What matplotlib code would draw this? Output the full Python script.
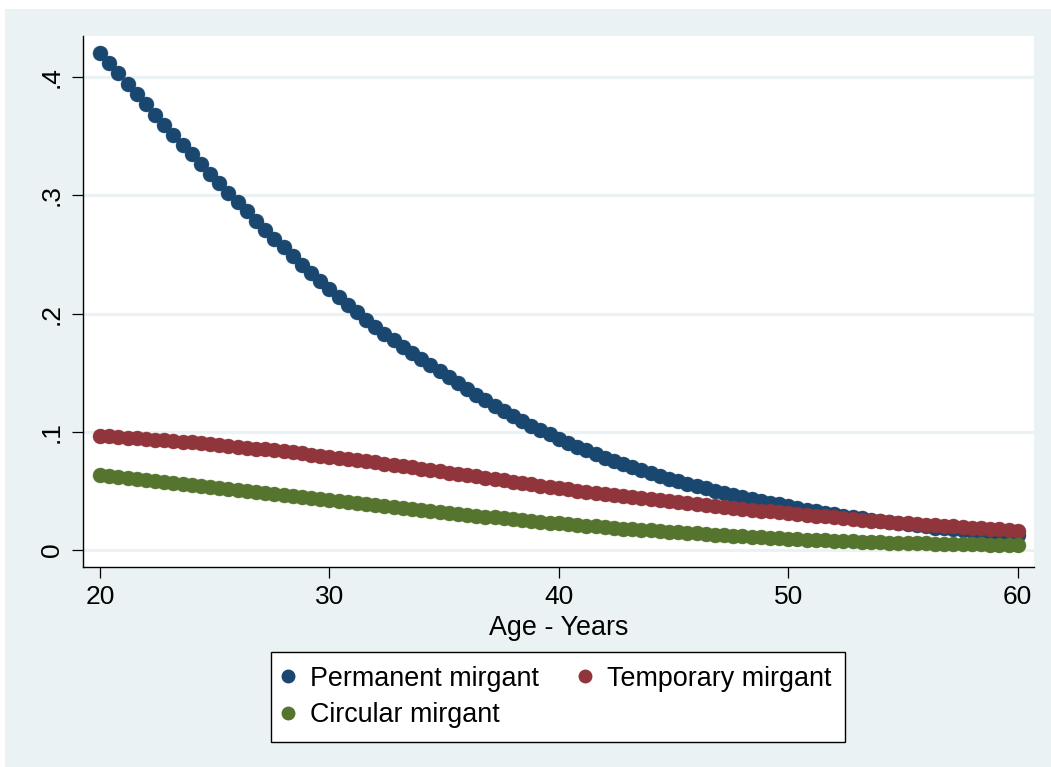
import matplotlib
matplotlib.use("Agg")
import matplotlib.pyplot as plt
from matplotlib.patches import Rectangle
from matplotlib.lines import Line2D

plt.rcParams['font.family'] = ['Liberation Sans', 'DejaVu Sans']

# Age grid: 101 evaluation points from 20 to 60
age_start = 20.0
age_step = 0.4
n_points = 101

permanent = [
    0.4200, 0.4116, 0.4031, 0.3941, 0.3856, 0.3769, 0.3679, 0.3597, 0.3512, 0.3428,
    0.3346, 0.3264, 0.3183, 0.3101, 0.3022, 0.2940, 0.2864, 0.2785, 0.2709, 0.2633,
    0.2560, 0.2483, 0.2410, 0.2342, 0.2272, 0.2210, 0.2142, 0.2075, 0.2011, 0.1948,
    0.1888, 0.1829, 0.1772, 0.1717, 0.1664, 0.1612, 0.1562, 0.1513, 0.1466, 0.1413,
    0.1362, 0.1313, 0.1265, 0.1219, 0.1175, 0.1133, 0.1092, 0.1052, 0.1014, 0.0977,
    0.0942, 0.0908, 0.0875, 0.0843, 0.0812, 0.0782, 0.0754, 0.0726, 0.0700, 0.0674,
    0.0650, 0.0626, 0.0603, 0.0581, 0.0560, 0.0540, 0.0520, 0.0501, 0.0483, 0.0465,
    0.0448, 0.0432, 0.0416, 0.0401, 0.0386, 0.0372, 0.0357, 0.0342, 0.0328, 0.0315,
    0.0302, 0.0290, 0.0278, 0.0267, 0.0256, 0.0246, 0.0236, 0.0226, 0.0217, 0.0208,
    0.0199, 0.0190, 0.0182, 0.0174, 0.0167, 0.0160, 0.0153, 0.0146, 0.0140, 0.0134,
    0.0128,
]

temporary = [
    0.0964, 0.0960, 0.0955, 0.0950, 0.0945, 0.0940, 0.0934, 0.0928, 0.0922, 0.0916,
    0.0910, 0.0903, 0.0896, 0.0889, 0.0882, 0.0874, 0.0866, 0.0858, 0.0850, 0.0842,
    0.0834, 0.0825, 0.0816, 0.0807, 0.0798, 0.0789, 0.0780, 0.0770, 0.0760, 0.0750,
    0.0740, 0.0730, 0.0720, 0.0710, 0.0699, 0.0688, 0.0677, 0.0666, 0.0655, 0.0644,
    0.0633, 0.0622, 0.0611, 0.0600, 0.0589, 0.0578, 0.0567, 0.0556, 0.0545, 0.0534,
    0.0523, 0.0513, 0.0503, 0.0493, 0.0483, 0.0473, 0.0464, 0.0455, 0.0446, 0.0437,
    0.0428, 0.0419, 0.0410, 0.0402, 0.0394, 0.0386, 0.0378, 0.0370, 0.0362, 0.0354,
    0.0347, 0.0340, 0.0333, 0.0326, 0.0319, 0.0312, 0.0305, 0.0298, 0.0291, 0.0284,
    0.0277, 0.0270, 0.0263, 0.0256, 0.0249, 0.0243, 0.0237, 0.0231, 0.0225, 0.0219,
    0.0214, 0.0209, 0.0204, 0.0199, 0.0194, 0.0189, 0.0184, 0.0179, 0.0174, 0.0169,
    0.0164,
]

circular = [
    0.0634, 0.0625, 0.0617, 0.0608, 0.0600, 0.0591, 0.0583, 0.0574, 0.0566, 0.0557,
    0.0549, 0.0540, 0.0532, 0.0524, 0.0516, 0.0507, 0.0499, 0.0491, 0.0482, 0.0474,
    0.0466, 0.0458, 0.0450, 0.0441, 0.0433, 0.0425, 0.0417, 0.0408, 0.0400, 0.0391,
    0.0383, 0.0374, 0.0366, 0.0357, 0.0349, 0.0340, 0.0332, 0.0323, 0.0315, 0.0307,
    0.0299, 0.0291, 0.0283, 0.0275, 0.0267, 0.0259, 0.0252, 0.0245, 0.0238, 0.0231,
    0.0224, 0.0217, 0.0211, 0.0205, 0.0199, 0.0193, 0.0187, 0.0181, 0.0175, 0.0170,
    0.0165, 0.0160, 0.0155, 0.0150, 0.0145, 0.0140, 0.0135, 0.0130, 0.0125, 0.0120,
    0.0115, 0.0110, 0.0106, 0.0102, 0.0098, 0.0094, 0.0090, 0.0087, 0.0084, 0.0081,
    0.0078, 0.0075, 0.0072, 0.0069, 0.0067, 0.0065, 0.0063, 0.0061, 0.0059, 0.0057,
    0.0055, 0.0053, 0.0052, 0.0050, 0.0049, 0.0048, 0.0047, 0.0045, 0.0044, 0.0043,
    0.0042,
]

ages = [age_start + age_step * i for i in range(n_points)]

series_labels = ["Permanent mirgant", "Temporary mirgant", "Circular mirgant"]
series_colors = ["#1A476F", "#90353B", "#55752F"]

x_ticks = [20, 30, 40, 50, 60]
x_ticklabels = ["20", "30", "40", "50", "60"]
y_ticks = [0, 0.1, 0.2, 0.3, 0.4]
y_ticklabels = ["0", ".1", ".2", ".3", ".4"]
x_label = "Age - Years"

W, H = 1051, 767
fig = plt.figure(figsize=(W / 100, H / 100), dpi=100, facecolor="white")
bg = "#EAF2F3"
fig.patches.append(Rectangle((5 / W, 0), 1 - 5 / W, 1 - 9 / H, transform=fig.transFigure,
                             facecolor=bg, edgecolor="none", zorder=-10))

left, right, top, bottom = 83, 1034, 36, 567
ax = fig.add_axes([left / W, 1 - bottom / H, (right - left) / W, (bottom - top) / H])
ax.set_facecolor("white")

for vals, lab, col in zip([permanent, temporary, circular], series_labels, series_colors):
    ax.plot(ages, vals, linestyle="none", marker="o", markersize=10.8,
            markerfacecolor=col, markeredgecolor=col, markeredgewidth=0.3, label=lab,
            zorder=3)

ax.set_xlim(19.26, 60.71)
ax.set_ylim(-0.0144, 0.4347)
ax.set_xticks(x_ticks)
ax.set_xticklabels(x_ticklabels)
ax.set_yticks(y_ticks)
ax.set_yticklabels(y_ticklabels, rotation=90, va="center")
ax.tick_params(axis="both", labelsize=19, length=8, width=0.9, color="black", pad=6)
ax.tick_params(axis="x", pad=5)
ax.yaxis.grid(True, color=bg, linewidth=2.2, zorder=0)
ax.set_axisbelow(True)
for s in ["top", "right"]:
    ax.spines[s].set_visible(False)
for s in ["left", "bottom"]:
    ax.spines[s].set_linewidth(1.0)
    ax.spines[s].set_color("black")
ax.set_xlabel(x_label, fontsize=19.4, labelpad=4)

handles = [Line2D([], [], linestyle="none", marker="o", markersize=9,
                  markerfacecolor=c, markeredgecolor=c) for c in series_colors]
order = [0, 2, 1]
leg = fig.legend([handles[i] for i in order], [series_labels[i] for i in order],
                 ncol=2, loc="center", bbox_to_anchor=(558 / W, 1 - 697 / H),
                 fontsize=19.4, frameon=True, fancybox=False, edgecolor="black",
                 framealpha=1.0,
                 handlelength=0.2, handletextpad=0.72, columnspacing=1.6,
                 borderpad=0.5, labelspacing=0.4, borderaxespad=0)
leg.get_frame().set_linewidth(1.0)
leg.get_frame().set_facecolor("white")

fig.savefig("out.png", dpi=100, facecolor=fig.get_facecolor())
